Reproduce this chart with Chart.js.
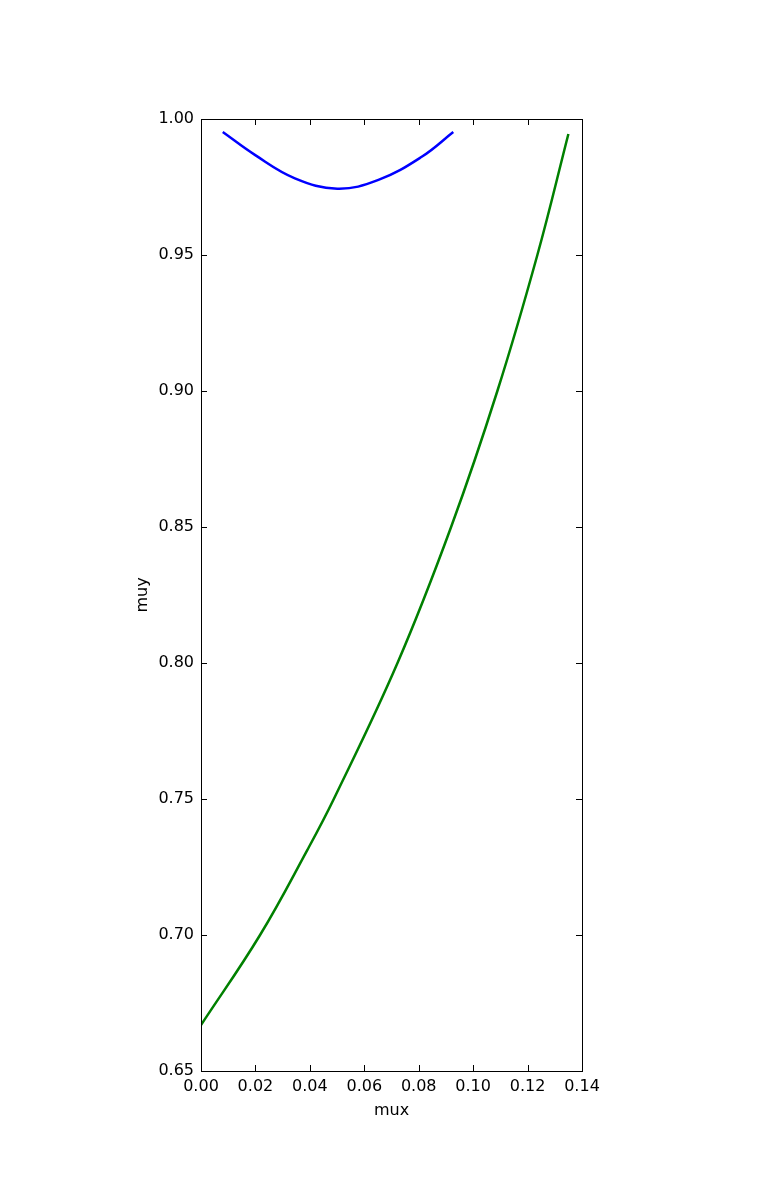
<!DOCTYPE html>
<html>
<head>
<meta charset="utf-8">
<script src="https://cdn.jsdelivr.net/npm/chart.js@4/dist/chart.umd.min.js"></script>
<style>
  html, body { margin: 0; padding: 0; background: #ffffff; }
  #wrap { width: 763px; height: 1190px; position: relative; }
</style>
</head>
<body>
<div id="wrap"><canvas id="c" width="763" height="1190"></canvas></div>
<script>
// ---- data ----
const blueX  = [0.0080, 0.0198, 0.0345, 0.0501, 0.0652, 0.0811, 0.0927];
const blueY  = [0.9952, 0.9868, 0.9782, 0.9744, 0.9776, 0.9861, 0.9952];
const greenX = [0.0000, 0.0217, 0.0391, 0.0488, 0.0722, 0.0919, 0.1089, 0.1236, 0.1350];
const greenY = [0.6669, 0.7000, 0.7313, 0.7500, 0.8000, 0.8500, 0.9000, 0.9500, 0.9945];
const xTicks = [0.00, 0.02, 0.04, 0.06, 0.08, 0.10, 0.12, 0.14];
const yTicks = [0.65, 0.70, 0.75, 0.80, 0.85, 0.90, 0.95, 1.00];
const xLabel = 'mux';
const yLabel = 'muy';

const toPts = (xs, ys) => xs.map((x, i) => ({x: x, y: ys[i]}));

const FONT = {family: 'DejaVu Sans', size: 16};

const framePlugin = {
  id: 'frame',
  afterDatasetsDraw(chart) {
    const {ctx, chartArea: a, scales} = chart;
    const L = 6;
    ctx.save();
    ctx.strokeStyle = '#000';
    ctx.lineWidth = 1;
    ctx.beginPath();
    scales.x.ticks.forEach(t => {
      const px = Math.round(scales.x.getPixelForValue(t.value)) + 0.5;
      ctx.moveTo(px, a.bottom); ctx.lineTo(px, a.bottom - L);
      ctx.moveTo(px, a.top); ctx.lineTo(px, a.top + L);
    });
    scales.y.ticks.forEach(t => {
      const py = Math.round(scales.y.getPixelForValue(t.value)) + 0.5;
      ctx.moveTo(a.left, py); ctx.lineTo(a.left + L, py);
      ctx.moveTo(a.right, py); ctx.lineTo(a.right - L, py);
    });
    ctx.stroke();
    ctx.strokeRect(Math.round(a.left) + 0.5, Math.round(a.top) + 0.5,
                   Math.round(a.right - a.left), Math.round(a.bottom - a.top));
    ctx.restore();
  }
};

new Chart(document.getElementById('c'), {
  type: 'scatter',
  data: {
    datasets: [
      {data: toPts(blueX, blueY), showLine: true, borderColor: '#0000ff', borderWidth: 2.5,
       pointRadius: 0, fill: false, tension: 0.4, borderCapStyle: 'butt'},
      {data: toPts(greenX, greenY), showLine: true, borderColor: '#008000', borderWidth: 2.5,
       pointRadius: 0, fill: false, tension: 0.4, borderCapStyle: 'butt'}
    ]
  },
  options: {
    responsive: false,
    animation: false,
    events: [],
    layout: {padding: {left: 0, top: 119, right: 181, bottom: 0}},
    plugins: {legend: {display: false}, tooltip: {enabled: false}},
    scales: {
      x: {
        type: 'linear', min: 0, max: 0.14,
        grid: {display: false, drawTicks: false},
        border: {display: false},
        afterBuildTicks: s => { s.ticks = xTicks.map(v => ({value: v})); },
        afterFit: s => { s.height = 1190 - 1071; },
        ticks: {color: '#000', font: FONT, padding: 6, maxRotation: 0,
                callback: v => Number(v).toFixed(2)},
        title: {display: true, text: xLabel, color: '#000', font: FONT,
                padding: {top: 0, bottom: 70}}
      },
      y: {
        type: 'linear', min: 0.65, max: 1.0,
        grid: {display: false, drawTicks: false},
        border: {display: false},
        afterBuildTicks: s => { s.ticks = yTicks.map(v => ({value: v})); },
        afterFit: s => { s.width = 201; },
        ticks: {color: '#000', font: FONT, padding: 7,
                callback: v => Number(v).toFixed(2)},
        title: {display: true, text: yLabel, color: '#000', font: FONT,
                padding: {top: 133, bottom: 0}}
      }
    }
  },
  plugins: [framePlugin]
});
</script>
</body>
</html>
